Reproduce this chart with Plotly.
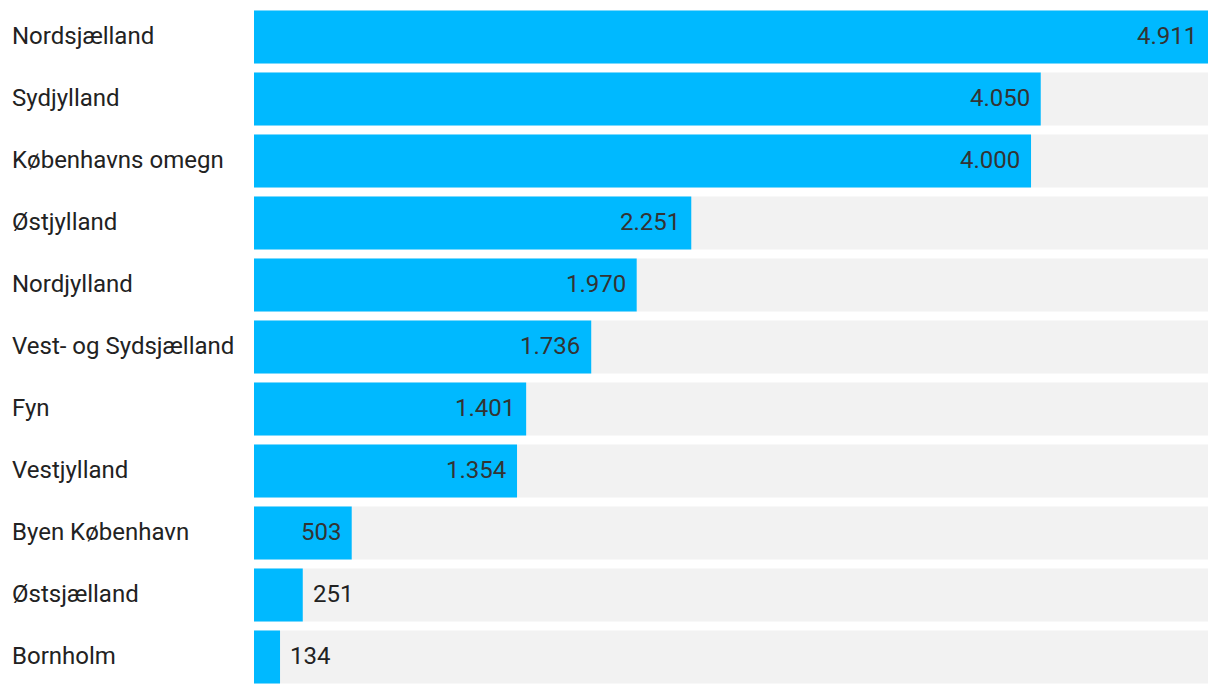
import plotly.graph_objects as go

regions = ["Nordsjælland", "Sydjylland", "Københavns omegn", "Østjylland", "Nordjylland",
           "Vest- og Sydsjælland", "Fyn", "Vestjylland", "Byen København", "Østsjælland", "Bornholm"]
values = [4911, 4050, 4000, 2251, 1970, 1736, 1401, 1354, 503, 251, 134]

W, H = 1220, 694
ML, MR, MT, MB = 254, 12, 6, 6
plot_w = W - ML - MR
xmax = max(values)

def fmt(v):
    return f"{v:,}".replace(",", ".")

fig = go.Figure()
fig.add_trace(go.Bar(y=regions, x=[xmax] * len(values), orientation="h",
                     marker=dict(color="#f2f2f2", line=dict(width=0)),
                     hoverinfo="skip", showlegend=False))
fig.add_trace(go.Bar(y=regions, x=values, orientation="h",
                     marker=dict(color="#00b9ff", line=dict(width=0)),
                     showlegend=False))

FONT = "Roboto"
FS = 24
annotations = []
for r, v in zip(regions, values):
    txt = fmt(v)
    px_w = v / xmax * plot_w
    est_text_w = len(txt) * FS * 0.56 + 22
    if px_w >= est_text_w:
        annotations.append(dict(x=v, y=r, xref="x", yref="y", text=txt, showarrow=False,
                                xanchor="right", xshift=-9, yshift=1,
                                font=dict(family=FONT, size=FS, color="#333333")))
    else:
        annotations.append(dict(x=v, y=r, xref="x", yref="y", text=txt, showarrow=False,
                                xanchor="left", xshift=8, yshift=1,
                                font=dict(family=FONT, size=FS, color="#222222")))
    annotations.append(dict(x=-(ML - 10) / plot_w, y=r, xref="paper", yref="y", text=r,
                            showarrow=False, xanchor="left", yshift=1,
                            font=dict(family=FONT, size=FS, color="#222222")))

fig.update_layout(
    width=W, height=H,
    margin=dict(l=ML, r=MR, t=MT, b=MB),
    barmode="overlay", bargap=9 / 62,
    plot_bgcolor="white", paper_bgcolor="white",
    xaxis=dict(range=[0, xmax], visible=False, fixedrange=True),
    yaxis=dict(autorange="reversed", visible=False, fixedrange=True),
    annotations=annotations,
)
fig.write_html("out.html")
